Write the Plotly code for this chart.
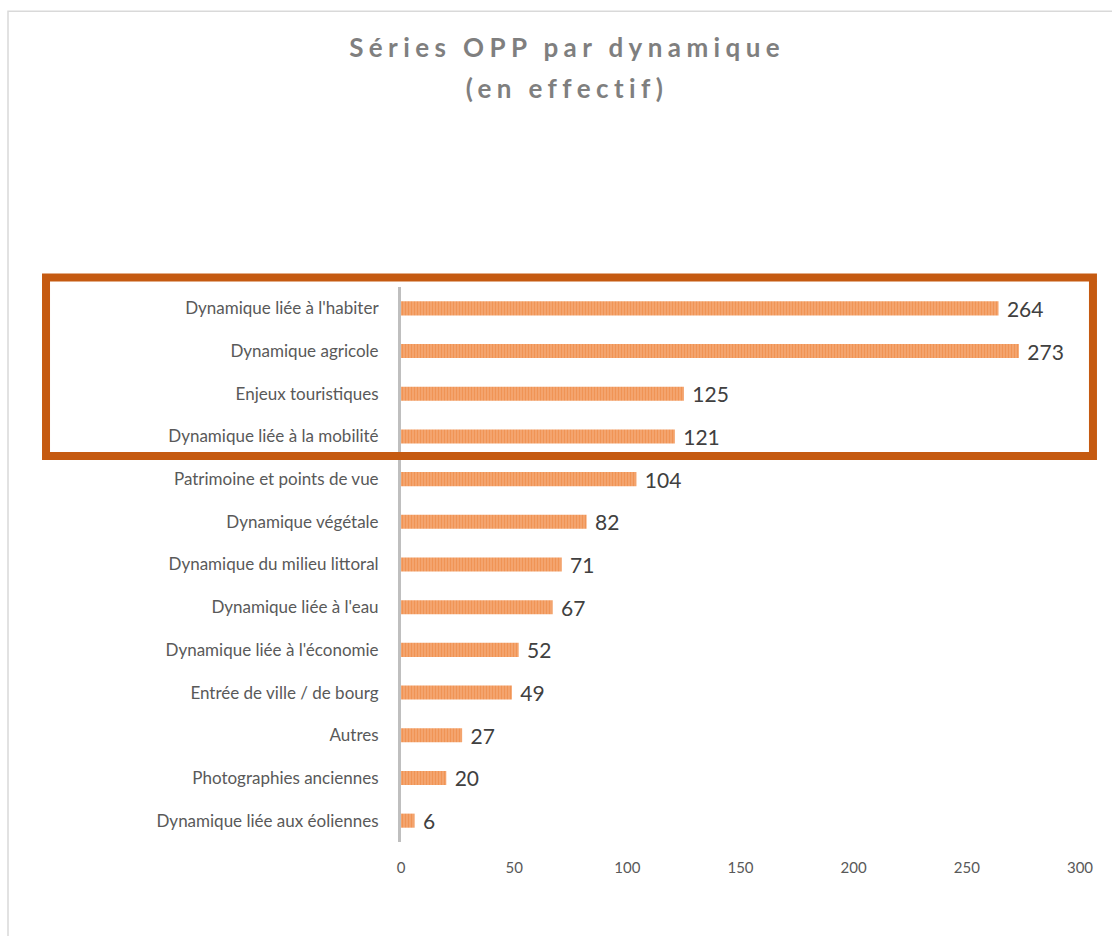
import plotly.graph_objects as go

# categories top -> bottom, as in the reference
categories = [
    "Dynamique liée à l'habiter",
    "Dynamique agricole",
    "Enjeux touristiques",
    "Dynamique liée à la mobilité",
    "Patrimoine et points de vue",
    "Dynamique végétale",
    "Dynamique du milieu littoral",
    "Dynamique liée à l'eau",
    "Dynamique liée à l'économie",
    "Entrée de ville / de bourg",
    "Autres",
    "Photographies anciennes",
    "Dynamique liée aux éoliennes",
]
counts = [264, 273, 125, 121, 104, 82, 71, 67, 52, 49, 27, 20, 6]
x_ticks = [0, 50, 100, 150, 200, 250, 300]
title_lines = ["Séries OPP par dynamique", "(en effectif)"]

FONT = "Lato"

fig = go.Figure()
fig.add_bar(
    y=categories, x=counts, orientation="h",
    marker=dict(color="#F5AE7E", line_width=0,
                pattern=dict(shape="|", fgcolor="#EC7A2C", size=3, solidity=0.6)),
    text=counts, texttemplate=" %{text}", textposition="outside",
    cliponaxis=False, constraintext="none",
    textfont=dict(family=FONT, size=21, color="#404040"),
    hoverinfo="skip",
)

fig.update_layout(
    width=1112, height=936,
    margin=dict(l=401, r=32, t=287, b=94),
    paper_bgcolor="white", plot_bgcolor="white",
    bargap=0.67, showlegend=False,
    font=dict(family=FONT, color="#595959"),
)
fig.update_xaxes(range=[0, 300], tickvals=x_ticks, showgrid=False, zeroline=False,
                 showline=False, tickfont=dict(size=15, color="#595959"),
                 ticklabelstandoff=15)
fig.update_yaxes(autorange="reversed", showgrid=False, zeroline=False,
                 showline=True, linecolor="#BFBFBF", linewidth=3,
                 tickfont=dict(size=17, color="#595959"), ticklabelstandoff=16)

# outer chart frame (light grey, runs off the page at right/bottom)
fig.add_shape(type="rect", xref="paper", yref="paper",
              x0=-0.5788, x1=1.3, y0=-0.3, y1=1.497,
              line=dict(color="#D9D9D9", width=1.5), layer="below")
# highlight box around the first four series
fig.add_shape(type="rect", xref="paper", yref="paper",
              x0=-0.5228, x1=1.0191, y0=0.6955, y1=1.0171,
              line=dict(color="#C55A11", width=8))

for txt, yp in zip(title_lines, [1.4324, 1.3586]):
    fig.add_annotation(text="<b>%s</b>" % txt, xref="paper", yref="paper",
                       x=0.2445, y=yp, xanchor="center", yanchor="middle",
                       showarrow=False, font=dict(family=FONT, size=26, color="#7F7F7F"))

post_js = ("document.body.style.margin='0';"
           "document.querySelectorAll('.annotation-text').forEach(function(e){e.style.letterSpacing='5.4px';});")
fig.write_html("out.html", post_script=post_js, config={"displayModeBar": False})
